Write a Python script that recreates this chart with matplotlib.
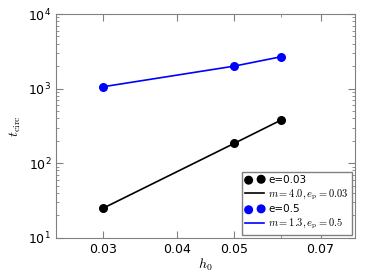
import numpy as np
import matplotlib
matplotlib.use('Agg')
import matplotlib.pyplot as plt

# values
h0 = [0.03, 0.05, 0.06]
t_e003 = [24.8, 184, 378]
t_e05 = [1057, 2000, 2670]
fit_e003 = [24.8, 184, 378]
fit_e05 = [1057, 2000, 2670]

xticks = [0.03, 0.04, 0.05, 0.07]
xtick_labels = ['0.03', '0.04', '0.05', '0.07']

plt.rcParams['mathtext.fontset'] = 'cm'
plt.rcParams['xtick.direction'] = 'in'
plt.rcParams['ytick.direction'] = 'in'
plt.rcParams['xtick.top'] = True
plt.rcParams['ytick.right'] = True

fig = plt.figure(figsize=(3.74, 2.8), dpi=100)
ax = fig.add_axes([0.15, 0.151, 0.799, 0.799])

ax.scatter(h0, t_e003, s=30, c='k', edgecolors='k', label='e=0.03', zorder=3)
ax.plot(h0, fit_e003, '-k', lw=1.2, label=r'$m = 4.0, e_{\rm p} = 0.03$')
ax.scatter(h0, t_e05, s=30, c='b', edgecolors='b', label='e=0.5', zorder=3)
ax.plot(h0, fit_e05, '-b', lw=1.2, label=r'$m = 1.3, e_{\rm p} = 0.5$')

ax.set_xscale('log')
ax.set_yscale('log')
ax.set_xlim(0.025, 0.08)
ax.set_ylim(10, 1e4)
ax.set_xticks(xticks)
ax.set_xticklabels(xtick_labels)
ax.set_xticks([0.06], minor=True)
ax.set_xticklabels([''], minor=True)

for s in ax.spines.values():
    s.set_color('0.5')
ax.tick_params(which='both', colors='0.5', labelcolor='k', labelsize=9)
ax.tick_params(which='major', length=5)
ax.tick_params(which='minor', length=2.5)

ax.set_xlabel(r'$h_0$', fontsize=10, labelpad=1)
ax.set_ylabel(r'$t_{\rm circ}$', fontsize=10, labelpad=4)

leg = ax.legend(loc='lower right', fontsize=7.5, scatterpoints=2, fancybox=False,
                framealpha=1, borderpad=0.3, handletextpad=0.4, labelspacing=0.25,
                handlelength=1.8, borderaxespad=0.3)
leg.get_frame().set_edgecolor('0.5')

fig.savefig('out.png', dpi=100)
